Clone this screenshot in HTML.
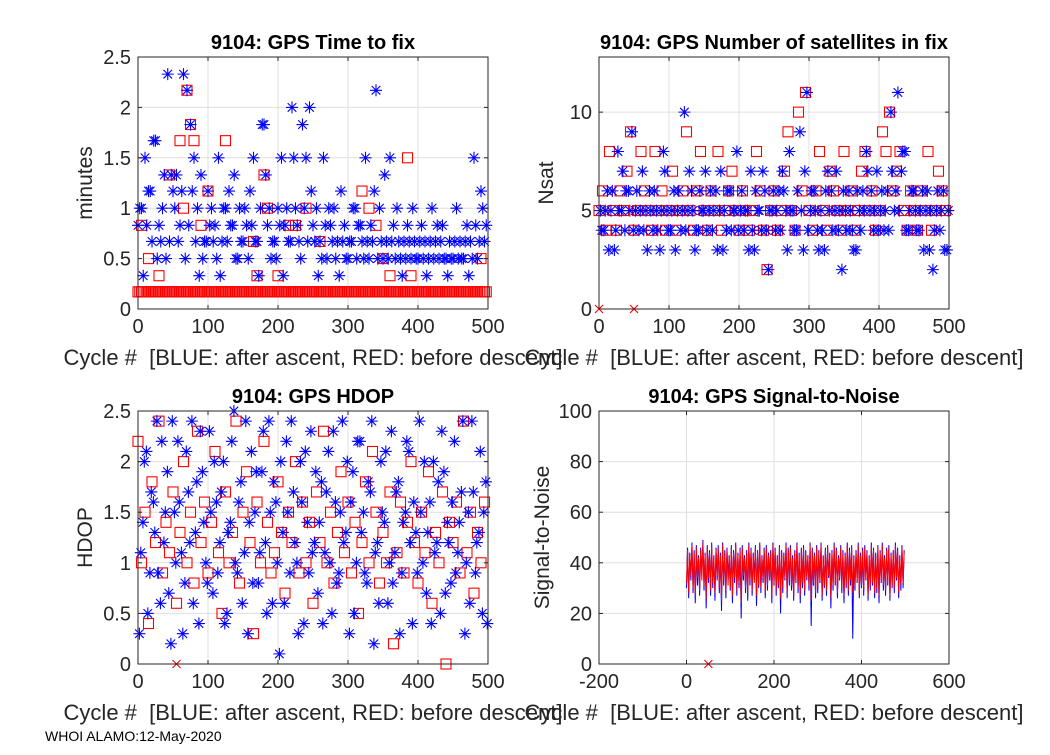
<!DOCTYPE html>
<html><head><meta charset="utf-8">
<style>
body{margin:0;background:#fff;width:1050px;height:750px;overflow:hidden}
svg{font-family:"Liberation Sans",Arial,sans-serif}
</style></head>
<body>
<svg id="fig" width="1050" height="750" viewBox="0 0 1050 750">
<rect width="1050" height="750" fill="#fff"/>
</svg>
<script>
// ---- data ----
const cycleStep = 5;
const fixBlue = [0.83,1,1.5,1.17,0.67,1.67,0.83,1,0.5,0.67, 1.17,1.33,0.83,2.33,2.17,1.83,1.5,1,1.33,0.67, 1.17,1,0.83,1.5,0.67,1,1.17,0.83,0.5,1, 0.67,0.83,1.17,1.5,0.67,1,1.83,0.83,0.5,0.67, 1,1.5,0.83,0.67,2,1,0.67,1.83,1.5,2, 0.83,1,0.67,1.5,0.5,0.83,1,0.67,1.17,0.83, 0.5,0.67,1,0.83,0.67,1.5,0.5,0.67,2.17,1, 0.5,0.67,1.5,0.83,1,0.5,0.67,0.83,0.5,0.67, 0.5,0.83,0.67,0.5,1,0.67,0.5,0.83,0.5,0.67, 0.5,1,0.67,0.5,0.83,0.67,1.5,0.5,1.17,0.67];
const fixBlue2 = [1,0.33,0.83,1.17,1.67,0.5,0.67,1.33,2.33,1.33, 1,0.67,1.17,0.5,0.83,1.17,0.67,0.33,0.5,0.67, 0.83,0.67,0.5,0.33,1,0.67,0.83,1.33,0.5,0.67, 1,0.5,0.83,0.67,0.33,1.83,1.33,1,0.67,0.5, 0.83,0.33,1,0.67,1.5,0.83,0.5,1,0.67,1.17, 0.67,0.33,0.5,0.83,1,0.67,0.5,0.33,0.67,0.5, 0.67,1,0.5,0.83,0.5,0.67,0.83,1.17,0.5,0.67, 1.33,0.5,0.67,0.5,0.67,0.33,0.5,0.67,1,0.5, 0.67,0.5,0.33,0.67,0.5,0.83,0.67,0.5,0.33,0.5, 0.67,0.5,0.5,0.67,0.33,0.5,0.83,0.67,1,0.83];
const fixRed = [0.17,0.17,0.17,0.17,0.17,0.17,0.17,0.17,0.17,0.17, 0.17,0.17,0.17,0.17,0.17,0.17,0.17,0.17,0.17,0.17, 0.17,0.17,0.17,0.17,0.17,0.17,0.17,0.17,0.17,0.17, 0.17,0.17,0.17,0.17,0.17,0.17,0.17,0.17,0.17,0.17, 0.17,0.17,0.17,0.17,0.17,0.17,0.17,0.17,0.17,0.17, 0.17,0.17,0.17,0.17,0.17,0.17,0.17,0.17,0.17,0.17, 0.17,0.17,0.17,0.17,0.17,0.17,0.17,0.17,0.17,0.17, 0.17,0.17,0.17,0.17,0.17,0.17,0.17,0.17,0.17,0.17, 0.17,0.17,0.17,0.17,0.17,0.17,0.17,0.17,0.17,0.17, 0.17,0.17,0.17,0.17,0.17,0.17,0.17,0.17,0.17,0.17];
const fixRedX = [5,15,30,45,60,65,70,75,80,90,100,125,165,170,180,185,200,215,225,240,260,320,330,340,350,360,385,390,490];
const fixRedY = [0.83,0.5,0.33,1.33,1.67,1,2.17,1.83,1.67,0.83,1.17,1.67,0.67,0.33,1.33,1,0.33,0.83,0.83,1,0.67,1.17,1,0.83,0.5,0.33,1.5,0.33,0.5];
const nsatBlue = [5,4,6,5,3,8,5,4,6,9, 5,4,7,5,6,4,5,3,8,5, 4,6,5,4,10,5,6,3,4,5, 7,5,4,6,5,3,4,6,5,8, 5,4,5,7,3,5,4,6,2,5, 4,6,7,5,8,5,4,9,3,11, 5,6,4,5,3,7,6,5,4,2, 5,6,4,3,5,6,8,5,4,7, 5,4,6,10,5,11,7,8,4,6, 5,4,6,5,3,2,5,4,6,3];
const nsatBlue2 = [4,5,3,6,4,5,7,6,5,4, 6,5,4,3,5,6,4,5,7,4, 5,3,6,5,4,7,5,4,6,5, 4,6,5,3,7,5,6,4,5,4, 6,5,3,4,6,5,7,4,5,6, 5,4,6,3,5,4,6,5,7,4, 6,5,3,4,6,5,4,7,5,6, 4,5,3,6,4,5,7,6,5,4, 6,5,4,7,6,5,8,4,5,6, 4,5,3,6,5,4,6,5,3,5];
const nsatRed = [5,6,4,8,5,4,6,5,7,9, 4,5,8,6,5,4,8,5,6,4, 5,7,4,5,6,9,5,4,6,8, 5,4,6,5,8,4,5,6,7,5, 4,6,5,4,5,8,6,4,2,5, 6,4,5,7,9,5,4,10,6,11, 5,4,6,8,5,4,7,6,5,4, 8,5,6,4,5,7,8,5,6,4, 5,9,8,10,6,7,8,5,4,6, 5,4,6,5,8,4,5,7,6,5];
const hdopBlue = [0.3,1.4,2.1,0.9,1.6,2.4,0.6,1.2,1.9,0.2, 1.5,2.2,1.1,0.8,1.7,2.4,1.3,0.4,1.9,1.0, 2.3,0.7,1.6,1.2,2.0,0.5,1.4,2.5,0.9,1.8, 1.1,0.3,2.1,1.5,0.8,1.9,1.2,2.4,0.6,1.6, 0.1,1.3,2.2,0.9,1.7,1.0,2.0,0.4,1.4,2.3, 1.2,0.7,1.8,1.1,2.1,0.5,1.6,0.9,2.4,1.3, 0.3,1.9,1.0,2.2,1.5,0.8,1.7,0.2,1.2,2.0, 1.4,0.6,2.3,1.1,1.8,0.9,1.5,2.1,0.4,1.3, 2.4,1.0,0.7,1.6,2.0,1.2,0.5,1.9,1.4,0.8, 2.2,1.1,1.7,0.3,1.5,2.4,0.9,1.3,0.5,1.8];
const hdopBlue2 = [1.1,2.0,0.5,1.7,1.3,0.9,2.2,1.5,0.7,2.4, 1.0,1.6,0.3,2.1,1.2,0.6,1.8,2.3,1.4,0.8, 1.5,2.0,0.9,1.7,0.4,1.3,2.2,1.0,1.6,0.6, 2.4,1.4,0.8,1.9,1.1,2.3,0.5,1.5,1.8,1.0, 2.0,0.6,1.5,2.4,1.2,0.3,1.6,2.1,0.9,1.1, 1.9,1.4,0.4,1.7,1.0,2.3,0.8,1.5,1.2,2.0, 1.6,0.5,2.2,1.3,0.9,1.8,2.4,1.1,0.6,1.5, 2.1,1.0,0.8,1.7,0.3,1.4,2.2,1.2,1.6,0.9, 1.5,2.0,1.3,0.4,1.1,1.8,2.3,0.7,1.2,1.6, 0.9,1.4,2.4,1.0,0.6,1.7,1.2,2.1,1.5,0.4];
const hdopRed = [2.2,1.0,1.5,0.4,1.8,1.2,2.4,0.9,1.4,1.1, 1.7,0.6,1.3,2.0,1.0,1.5,0.8,2.3,1.2,1.6, 0.9,1.4,2.1,1.1,0.5,1.7,1.0,1.3,2.4,0.8, 1.5,1.9,1.2,0.3,1.6,1.0,2.2,1.4,0.9,1.1, 1.8,1.3,0.7,1.5,1.2,2.0,0.9,1.6,1.0,1.4, 0.6,1.7,1.2,2.3,1.0,1.5,0.8,1.3,1.9,1.1, 1.6,0.9,1.4,0.5,1.2,1.8,1.0,2.1,1.5,0.8, 1.3,1.0,1.7,0.2,1.1,1.6,0.9,1.4,2.0,1.2, 0.8,1.5,1.1,1.9,0.6,1.3,1.0,1.7,0.0,1.4, 1.2,1.6,0.9,2.4,1.1,1.5,0.7,1.3,1.0,1.6];
const snrBlueLow = [30,26,33,28,24,31,27,35,29,22, 32,27,30,25,33,28,21,31,26,34, 29,24,32,27,30,18,33,28,25,31, 27,34,23,30,28,32,26,29,33,24, 31,27,30,20,28,33,26,31,29,25, 32,28,24,30,27,33,29,15,31,26, 28,32,25,30,27,34,22,29,31,26, 33,28,24,30,27,31,10,29,32,26, 30,27,33,25,29,31,26,28,24,32, 29,27,31,25,30,28,33,26,29,30];
const snrBlueHigh = [46,44,48,45,47,43,46,49,44,47, 45,48,43,46,47,44,48,45,46,43, 47,45,48,44,46,47,43,45,48,46, 44,47,45,48,43,46,47,44,45,48, 46,43,47,45,44,48,46,47,43,45, 48,44,46,47,45,43,48,46,44,47, 45,48,43,46,47,44,45,48,46,43, 47,45,44,48,46,47,43,45,48,44, 46,47,45,43,48,46,44,47,45,48, 43,46,47,44,45,48,46,43,47,45];
const snrRedLow = [32,28,35,30,27,34,29,33,31,26, 34,29,32,28,35,30,25,33,29,31, 30,27,34,29,32,24,35,30,28,33, 29,32,27,31,30,34,28,31,33,27, 32,29,31,26,30,34,28,33,31,27, 33,30,27,32,29,34,31,25,32,28, 30,33,27,31,29,35,26,31,32,28, 34,30,27,31,29,33,28,31,33,28, 31,29,34,27,31,32,28,30,27,33, 31,29,32,27,31,30,34,28,31,32];
const snrRedHigh = [45,43,47,44,46,42,45,48,43,46, 44,47,42,45,46,43,47,44,45,42, 46,44,47,43,45,46,42,44,47,45, 43,46,44,47,42,45,46,43,44,47, 45,42,46,44,43,47,45,46,42,44, 47,43,45,46,44,42,47,45,43,46, 44,47,42,45,46,43,44,47,45,42, 46,44,43,47,45,46,42,44,47,43, 45,46,44,42,47,45,43,46,44,47, 42,45,46,43,44,47,45,42,46,44];
const xTicks1 = [0,100,200,300,400,500];
const yTicksFix = [0,0.5,1,1.5,2,2.5];
const yTicksNsat = [0,5,10];
const yTicksHdop = [0,0.5,1,1.5,2,2.5];
const xTicksSnr = [-200,0,200,400,600];
const yTicksSnr = [0,20,40,60,80,100];
const zeroFixX = [0,50];

// ---- drawing ----
const NS='http://www.w3.org/2000/svg';
const svg=document.getElementById('fig');
function el(tag,attrs,parent,text){const e=document.createElementNS(NS,tag);for(const k in attrs)e.setAttribute(k,attrs[k]);if(text!==undefined)e.textContent=text;(parent||svg).appendChild(e);return e;}

function makeAxes(name,L,T,R,B,xmin,xmax,ymin,ymax,xt,yt,title,ylabel){
  const g=el('g',{});
  
  
  const sx=v=>L+(v-xmin)/(xmax-xmin)*(R-L);
  const sy=v=>B-(v-ymin)/(ymax-ymin)*(B-T);
  el('rect',{x:L,y:T,width:R-L,height:B-T,fill:'#fff'},g);
  const grid=el('g',{stroke:'#dfdfdf','stroke-width':1},g);
  
  
  xt.forEach(v=>el('line',{x1:sx(v),x2:sx(v),y1:T,y2:B},grid));
  yt.forEach(v=>el('line',{x1:L,x2:R,y1:sy(v),y2:sy(v)},grid));
  const plot=el('g',{},g);
  
  
  return {g,plot,sx,sy,L,T,R,B,xt,yt,title,ylabel};
}
function finishAxes(ax,xlabelText){
  const {g,sx,sy,L,T,R,B,xt,yt}=ax;
  el('rect',{x:L,y:T,width:R-L,height:B-T,fill:'none',stroke:'#262626','stroke-width':1},g);
  const tk=el('g',{stroke:'#262626','stroke-width':1},g);
  xt.forEach(v=>{el('line',{x1:sx(v),x2:sx(v),y1:B,y2:B-4},tk);el('line',{x1:sx(v),x2:sx(v),y1:T,y2:T+4},tk);});
  yt.forEach(v=>{el('line',{x1:L,x2:L+4,y1:sy(v),y2:sy(v)},tk);el('line',{x1:R,x2:R-4,y1:sy(v),y2:sy(v)},tk);});
  const xl=el('g',{'font-size':20,fill:'#262626','text-anchor':'middle'},g);
  
  
  xt.forEach(v=>el('text',{x:sx(v),y:B+24},xl,String(v)));
  const yl=el('g',{'font-size':20,fill:'#262626','text-anchor':'end'},g);
  
  
  yt.forEach(v=>el('text',{x:L-7,y:sy(v)+7},yl,String(v)));
  const t=el('text',{x:(L+R)/2,y:T-8,'font-size':20,'font-weight':'bold','text-anchor':'middle',fill:'#000'},g,ax.title);
  
  
  const yw = ax.ylabel.length>8?40:36;
  const y=el('text',{x:0,y:0,'font-size':21,'text-anchor':'middle',fill:'#262626',transform:`translate(${L-yw-10},${(T+B)/2}) rotate(-90)`},g,ax.ylabel);
  
  
  const x=el('text',{x:(L+R)/2,y:B+56,'font-size':22,'text-anchor':'middle',fill:'#262626',style:'white-space:pre'},g,xlabelText);
  
  
}
function star(ax,xv,yv,name){
  const x=ax.sx(xv),y=ax.sy(yv),r=6,d=4.3;
  const p=el('path',{d:`M${x-r},${y}H${x+r}M${x},${y-r}V${y+r}M${x-d},${y-d}L${x+d},${y+d}M${x-d},${y+d}L${x+d},${y-d}`,stroke:'#0000ff','stroke-width':1.1,fill:'none'},ax.plot);
  
  
}
function sq(ax,xv,yv,name,color){
  const x=ax.sx(xv),y=ax.sy(yv),r=5;
  const p=el('rect',{x:x-r,y:y-r,width:2*r,height:2*r,stroke:color||'#ff0000','stroke-width':1.1,fill:'none'},ax.plot);
  
  
}
function cross(ax,xv,yv,name){
  const x=ax.sx(xv),y=ax.sy(yv),r=4;
  const p=el('path',{d:`M${x-r},${y-r}L${x+r},${y+r}M${x-r},${y+r}L${x+r},${y-r}`,stroke:'#ff0000','stroke-width':1.1},ax.plot);
  
  
}
const XL='Cycle #  [BLUE: after ascent, RED: before descent]';

// Panel 1
const a1=makeAxes('time-to-fix-panel',138,57,488,309,0,500,0,2.5,xTicks1,yTicksFix,'9104: GPS Time to fix','minutes');
fixRed.forEach((v,i)=>sq(a1,i*cycleStep,v,'fix-red-marker'));
fixRed.forEach((v,i)=>sq(a1,i*cycleStep+2.5,v,'fix-red-marker'));
fixRedX.forEach((c,i)=>sq(a1,c,fixRedY[i],'fix-red-marker'));
fixBlue.forEach((v,i)=>star(a1,i*cycleStep,v,'fix-blue-marker'));
fixBlue2.forEach((v,i)=>star(a1,i*cycleStep+2.5,v,'fix-blue-marker'));
finishAxes(a1,XL);

// Panel 2
const a2=makeAxes('nsat-panel',599,57,949,309,0,500,0,12.8,xTicks1,yTicksNsat,'9104: GPS Number of satellites in fix','Nsat');
nsatRed.forEach((v,i)=>sq(a2,i*cycleStep,v,'nsat-red-marker'));
nsatBlue.forEach((v,i)=>star(a2,i*cycleStep+2,v,'nsat-blue-marker'));
nsatBlue2.forEach((v,i)=>star(a2,i*cycleStep+4,v,'nsat-blue-marker'));
zeroFixX.forEach(c=>cross(a2,c,0,'nsat-zero-marker'));
finishAxes(a2,XL);

// Panel 3
const a3=makeAxes('hdop-panel',138,411,488,664,0,500,0,2.5,xTicks1,yTicksHdop,'9104: GPS HDOP','HDOP');
hdopRed.forEach((v,i)=>sq(a3,i*cycleStep,v,'hdop-red-marker'));
hdopBlue.forEach((v,i)=>star(a3,i*cycleStep+2,v,'hdop-blue-marker'));
hdopBlue2.forEach((v,i)=>star(a3,i*cycleStep+4,v,'hdop-blue-marker'));
cross(a3,55,0,'hdop-zero-marker');
finishAxes(a3,XL);

// Panel 4
const a4=makeAxes('snr-panel',599,411,949,664,-200,600,0,100,xTicksSnr,yTicksSnr,'9104: GPS Signal-to-Noise','Signal-to-Noise');
function zig(lo,hi,color,name){
  let d='';
  lo.forEach((v,i)=>{const c=i*cycleStep;d+=(i?'L':'M')+a4.sx(c)+','+a4.sy(v)+'L'+a4.sx(c+2.5)+','+a4.sy(hi[i]);});
  const p=el('path',{d,stroke:color,'stroke-width':1,fill:'none'},a4.plot);
  
  
}
zig(snrBlueLow,snrBlueHigh,'#0000ff','snr-blue-line');
zig(snrRedLow,snrRedHigh,'#ff0000','snr-red-line');
cross(a4,50,0,'snr-zero-marker');
finishAxes(a4,XL);

const f=el('text',{x:45,y:741,'font-size':14,fill:'#000'},svg,'WHOI ALAMO:12-May-2020');


</script>
</body></html>
